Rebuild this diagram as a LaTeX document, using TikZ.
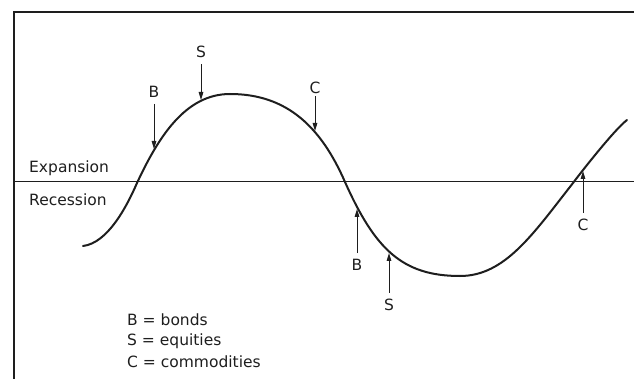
\documentclass[tikz,border=0pt]{standalone}
\usepackage{fontspec}
\setmainfont{DejaVu Sans}
\usetikzlibrary{arrows.meta, positioning}
\definecolor{Ink}{HTML}{1E1E1E}

\begin{document}
\begin{tikzpicture}[
  x=1pt, y=-1pt,
  font=\fontsize{15.5}{19}\selectfont,
  frame/.style={draw=Ink, line width=1.6pt},
  zeroline/.style={draw=Ink, line width=1pt},
  wave/.style={draw=Ink, line width=2pt, line cap=round},
  tag/.style={inner sep=0pt, text=Ink},
  arrow/.style={-{Triangle[length=8pt, width=4.6pt]}, draw=Ink, line width=1pt, shorten <=6pt}
]
\useasboundingbox (0,0) rectangle (634,379);

% frame and zero line
\draw[frame] (14,379) -- (14,12) -- (634,12);
\draw[zeroline] (14,182) -- (634,182);
\node[tag, anchor=west] (expansion) at (29,168) {Expansion};
\node[tag, anchor=west] (recession) at (29,200) {Recession};

% the cycle
\draw[wave] (83,246) .. controls (108,243) and (127,206) .. (137,183)
  .. controls (158,138) and (185,94) .. (230,94)
  .. controls (287,94) and (321,127) .. (345,182)
  .. controls (375,249) and (402,276) .. (460,276)
  .. controls (505,276) and (533,234) .. (573,183)
  .. controls (582,171) and (615,129) .. (627,120);

% points on the curve
\coordinate (bPeak) at (154,149);
\coordinate (sPeak) at (201,100);
\coordinate (cPeak) at (315,131);
\coordinate (bTrough) at (357,209);
\coordinate (sTrough) at (389,253);
\coordinate (cTrough) at (583,171);

% labels
\node[tag] (bTop) at (154,92) {B};
\node[tag] (sTop) at (201,52) {S};
\node[tag] (cTop) at (315,88) {C};
\node[tag] (bBot) at (357,265) {B};
\node[tag] (sBot) at (389,305) {S};
\node[tag] (cBot) at (583,225) {C};

\draw[arrow] (bTop) -- (bPeak);
\draw[arrow] (sTop) -- (sPeak);
\draw[arrow, shorten <=2pt] (cTop) -- (cPeak);
\draw[arrow] (bBot) -- (bTrough);
\draw[arrow] (sBot) -- (sTrough);
\draw[arrow] (cBot) -- (cTrough);

% key
\node[tag, anchor=west] (keyB) at (127,320) {B = bonds};
\node[tag, anchor=west] (keyS) at (127,341) {S = equities};
\node[tag, anchor=west] (keyC) at (127,362) {C = commodities};
\end{tikzpicture}
\end{document}
